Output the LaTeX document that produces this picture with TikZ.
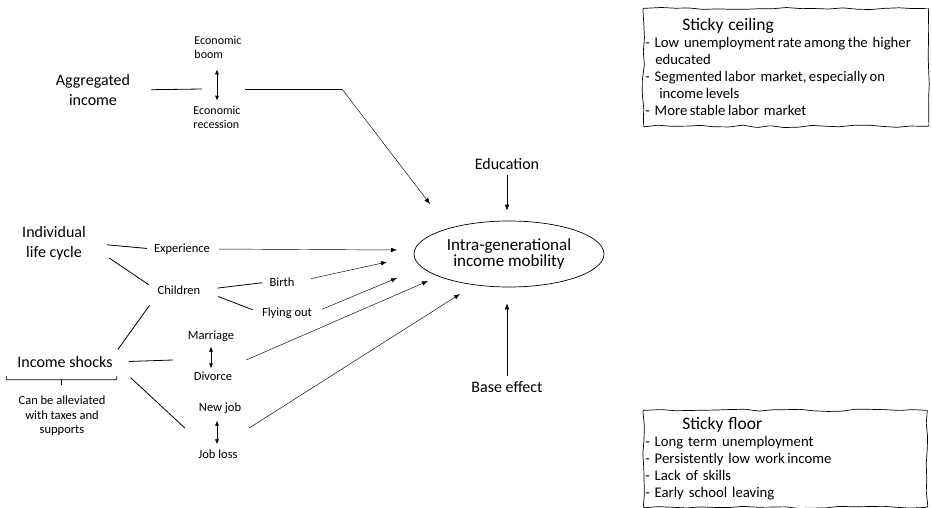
\documentclass[tikz,border=0pt]{standalone}
\usepackage{fontspec}
\setmainfont{Carlito}
\usetikzlibrary{arrows.meta,shapes.geometric,decorations.pathmorphing}

\begin{document}
\begin{tikzpicture}[x=1pt,y=-1pt,
  every node/.style={inner sep=1pt},
  big/.style={font=\fontsize{16}{19.5}\selectfont, align=center},
  small/.style={font=\fontsize{12.5}{14.5}\selectfont, align=center},
  tiny/.style={font=\fontsize{12}{14}\selectfont, align=left},
  hub/.style={inner sep=0pt, minimum height=0pt},
  plain/.style={line width=0.8pt},
  arr/.style={line width=0.45pt, -{Latex[length=6pt,width=4.5pt]}},
  dbl/.style={line width=0.6pt, {Latex[length=5pt,width=4pt]}-{Latex[length=5pt,width=4pt]}},
  sketch/.style={draw, line width=0.7pt, decorate,
    decoration={random steps, segment length=14pt, amplitude=1.2pt},
    rounded corners=1pt, anchor=north west, align=left, inner sep=0pt,
    font=\fontsize{14.7}{17}\selectfont}]
\pgfmathsetseed{7}
\useasboundingbox (0,0) rectangle (932,508);

% aggregated level
\node[big] (agg) at (93,90) {Aggregated\\income};
\node[tiny] (boom) at (218,47) {Economic\\boom};
\node[tiny] (recession) at (217,117) {Economic\\recession};
\node[hub, minimum width=30pt] (econ) at (217,89) {};
\coordinate (bend) at (342,89);

% individual level
\node[big] (life) at (54,243) {Individual\\life cycle};
\node[small] (exper) at (182,249) {Experience};
\node[small] (children) at (179,290) {Children};
\node[small] (birth) at (282,282) {Birth};
\node[small] (flyout) at (287,313) {Flying out};

% shocks
\node[big] (shocks) at (65,362) {Income shocks};
\node[small] (relief) at (62,416) {Can be alleviated\\with taxes and\\supports};
\node[small] (marriage) at (211,336) {Marriage};
\node[small] (divorce) at (213,376) {Divorce};
\node[hub, minimum width=73pt] (wed) at (209.5,360) {};
\node[small] (newjob) at (220,408) {New job};
\node[small] (jobloss) at (218,454) {Job loss};
\node[hub, minimum width=64pt] (job) at (217,428) {};

% centre
\node[draw, ellipse, line width=0.7pt, minimum width=190pt, minimum height=66pt,
  font=\fontsize{17}{16.5}\selectfont, align=center] (mobility) at (509,254)
  {Intra-generational\\income mobility};
\node[big] (educ) at (507,164) {Education};
\node[big] (base) at (507,387) {Base effect};

\coordinate (in1) at (430,204);
\coordinate (in2) at (397,250);
\coordinate (in3) at (387,262);
\coordinate (in4) at (397,278);
\coordinate (in5) at (428,281);
\coordinate (in6) at (460,294);

% sticky boxes
\node[sketch, minimum width=285pt, minimum height=118pt, text width=281pt] (ceilingbox) at (643,8)
  {\hspace*{37pt}{\fontsize{17.5}{20}\selectfont Sticky ceiling}\\
   - Low unemployment\,rate\,among\,the higher\\
   \hspace*{10pt}educated\\
   - Segmented\,labor market,\,especially\,on\\
   \hspace*{14pt}income\,levels\\
   - More\,stable\,labor market};
\node[sketch, minimum width=284pt, minimum height=97pt, text width=280pt] (floorbox) at (643,410)
  {\hspace*{37pt}{\fontsize{17.5}{20}\selectfont Sticky floor}\\
   - Long term unemployment\\
   - Persistently low work\,income\\
   - Lack of skills\\
   - Early school leaving};

% links
\draw[plain, shorten <=20pt] (agg.east) -- (econ.west);
\draw[plain, shorten <=13pt] (econ.east) -- (bend);
\draw[arr] (bend) -- (in1);
\draw[dbl, shorten <=10pt, shorten >=4pt] (boom.south -| econ) -- (recession.north -| econ);

\draw[plain, shorten <=20pt, shorten >=6pt] (life.east) -- (exper.west);
\draw[plain, shorten <=27pt, shorten >=9pt] (life.east) -- (children.west);
\draw[plain, shorten <=16pt, shorten >=6pt] (children.east) -- (birth.west);
\draw[plain, shorten <=18pt, shorten >=9pt] (children.east) -- (flyout.west);
\draw[plain, shorten <=12pt, shorten >=7pt] (children.south west) -- (shocks.north east);
\draw[arr, shorten <=8pt] (exper.east) -- (in2);
\draw[arr, shorten <=16pt] (birth.east) -- (in3);
\draw[arr, shorten <=10pt] (flyout.east) -- (in4);

\draw[plain, shorten <=15pt] (shocks.east) -- (wed.west);
\draw[plain, shorten <=23pt] (shocks.east) -- (job.west);
\draw[dbl, shorten <=4pt, shorten >=2pt] (marriage.south) -- (marriage.south |- divorce.north);
\draw[dbl, shorten <=6pt, shorten >=4pt] (newjob.south -| job) -- (jobloss.north -| job);
\draw[arr] (wed.east) -- (in5);
\draw[arr] (job.east) -- (in6);
% bracket under the shocks
\draw[plain, line width=0.7pt, rounded corners=1pt]
  ([xshift=-10pt, yshift=-7pt]shocks.south west) -- ++(0,4)
  -- ([xshift=3pt, yshift=-11pt]shocks.south east) -- ++(0,-4);
\draw[plain, line width=0.7pt] ([xshift=-3.5pt, yshift=-11pt]shocks.south) -- ++(0,5);

\draw[arr, shorten <=4pt, shorten >=10pt] (educ.south) -- (educ.south |- mobility.north);
\draw[arr, shorten <=4pt, shorten >=16pt] (base.north) -- (base.north |- mobility.south);
\end{tikzpicture}
\end{document}
